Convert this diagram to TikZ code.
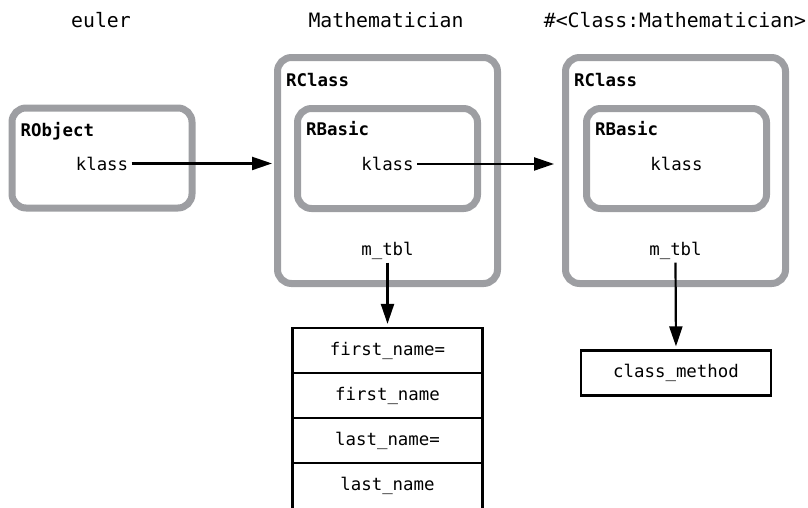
\documentclass[tikz,border=0pt]{standalone}
\usepackage{fontspec}
\setmonofont{DejaVu Sans Mono}
\usetikzlibrary{arrows.meta}
\definecolor{boxgray}{RGB}{157,158,162}
\begin{document}
\begin{tikzpicture}[x=1pt,y=-1pt]
            \def\bw{180}
            \def\bh{100}
            \def\cw{220}
            \def\ch{226}
            \def\rh{45}
            \tikzset{obj/.style={draw=boxgray,line width=7pt,rounded corners=14pt,minimum width=\bw pt,minimum height=\bh pt},
                cls/.style={obj,minimum width=\cw pt,minimum height=\ch pt},
                lbl/.style={anchor=base west,inner sep=0pt,font=\ttfamily\bfseries\fontsize{17.4}{20}\selectfont},
                txt/.style={anchor=base,font=\ttfamily\fontsize{17.4}{20}\selectfont},
                ttl/.style={anchor=base,font=\ttfamily\fontsize{19.8}{22}\selectfont},
                cell/.style={draw,line width=2.2pt,minimum width=190pt,minimum height=\rh pt,font=\ttfamily\fontsize{17.4}{20}\selectfont},
                arr/.style={line width=2.2pt,-{Triangle[length=20pt,width=13pt]}}}
            \useasboundingbox(0,0)rectangle(808,507);
            % boxes
            \path(102,158)node[obj](RObj){}
                (387.5,170.5)node[cls](RCls1){}(387.5,158.5)node[obj](RBas1){}
                (675.5,170.5)node[cls](RCls2){}(676.5,158.5)node[obj](RBas2){};
            % titles
            \path(101,27)node[ttl](tEuler){euler}++(285,0)node[ttl](tMath){Mathematician}++(289,0)node[ttl](tMeta){\#<Class:Mathematician>};
            % labels
            \path(RObj.north west)++(12,32)node[lbl](lRObj){RObject};
            \path(RCls1.north west)++(12,32)node[lbl](lRCls1){RClass};
            \path(RBas1.north west)++(12,30)node[lbl](lRBas1){RBasic};
            \path(RCls2.north west)++(12,32)node[lbl](lRCls2){RClass};
            \path(RBas2.north west)++(12,30)node[lbl](lRBas2){RBasic};
            % fields
            \path(RObj.center)++(0,12)node[txt](kObj){klass};
            \path(RBas1.center)++(0,12)node[txt](kBas1){klass};
            \path(RBas2.center)++(0,12)node[txt](kBas2){klass};
            \path(RCls1.south)++(0,-32)node[txt](mt1){m\_tbl};
            \path(RCls2.south)++(0,-32)node[txt](mt2){m\_tbl};
            % method table, cut off at the bottom
            \path(387.5,350.5)node[cell](c1){first\_name=}++(0,\rh)node[cell](c2){first\_name}++(0,\rh)node[cell](c3){last\_name=}++(0,\rh)node[cell,draw=none,outer sep=0pt](c4){last\_name};
            \draw[line width=2.2pt,shorten <=-8pt,shorten >=-8pt](c4.south west)--(c4.north west)--(c4.north east)--(c4.south east);
            \path(676,373)node[cell](cm){class\_method};
            % arrows
            \draw[arr,shorten >=2pt](kObj.east)--(kObj.east-|RCls1.west);
            \draw[arr,shorten >=8pt](kBas1.east)--(kBas1.east-|RCls2.west);
            \foreach \x/\y in {mt1/c1,mt2/cm}
            \draw[arr,shorten >=3pt](\x.south)--(\y.north);
        \end{tikzpicture}
\end{document}
